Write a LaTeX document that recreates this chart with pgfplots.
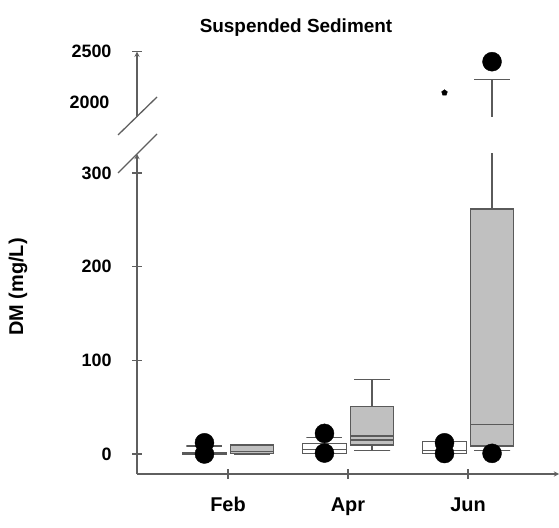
\documentclass[border=0pt]{standalone}
\usepackage{pgfplots}
\pgfplotsset{compat=1.18}
\usepackage{fontspec}
\setmainfont{Liberation Sans}
\definecolor{boxfill}{RGB}{192,192,192}
\definecolor{boxline}{RGB}{90,90,90}
\definecolor{axline}{RGB}{95,95,95}
\pgfplotsset{
  brk/.style={
    scale only axis, width=422bp, xmin=0.242, xmax=3.758,
    axis line style={axline, line width=1.3pt, -},
    tick style={axline, line width=1.3pt},
    tick align=outside,
    /pgf/number format/assume math mode=true,
    /pgf/number format/1000 sep={},
    tick label style={font=\fontsize{18}{20}\selectfont\bfseries},
  },
  wk/.style={draw=boxline, line width=1.1pt, no markers, solid},
  wb/.style={draw=boxline, line width=1.1pt, fill=white, no markers, solid},
  gb/.style={draw=boxline, line width=1.1pt, fill=boxfill, no markers, solid},
  md/.style={draw=boxline, line width=1.1pt, no markers, solid},
  ol/.style={only marks, mark=*, mark size=9.5bp, mark options={fill=black, draw=black}},
}
\begin{document}
\begin{tikzpicture}
\path[use as bounding box] (0,0) rectangle (559bp,528bp);
% lower part of the broken axis
\begin{axis}[brk, at={(137bp,54bp)}, anchor=south west, height=320bp,
  ymin=-21.35, ymax=320.3,
  axis x line=bottom, axis y line=left,
  xtick={1,2,3}, xticklabels={Feb,Apr,Jun},
  x tick label style={font=\fontsize{20}{22}\selectfont\bfseries, yshift=-15bp},
  major tick length=10bp,
  ytick={0,100,200,300},
  y tick label style={xshift=-17bp}]
% Feb white
\addplot[wk] coordinates {(0.654,0) (0.954,0) (0.804,0) (0.804,8.5) (0.654,8.5) (0.954,8.5)};
\addplot[wb] coordinates {(0.624,0) (0.984,0) (0.984,2) (0.624,2)} -- cycle;
\addplot[md] coordinates {(0.624,1) (0.984,1)};
% Feb gray
\addplot[wk] coordinates {(1.05,0) (1.35,0) (1.2,0) (1.2,10) (1.05,10) (1.35,10)};
\addplot[gb] coordinates {(1.02,0.5) (1.38,0.5) (1.38,9.6) (1.02,9.6)} -- cycle;
\addplot[md] coordinates {(1.02,3) (1.38,3)};
% Apr white
\addplot[wk] coordinates {(1.654,0.5) (1.954,0.5) (1.804,0.5) (1.804,17.8) (1.654,17.8) (1.954,17.8)};
\addplot[wb] coordinates {(1.624,0.8) (1.984,0.8) (1.984,11.4) (1.624,11.4)} -- cycle;
\addplot[md] coordinates {(1.624,5) (1.984,5)};
% Apr gray
\addplot[wk] coordinates {(2.05,3.5) (2.35,3.5) (2.2,3.5) (2.2,80) (2.05,80) (2.35,80)};
\addplot[gb] coordinates {(2.02,9.6) (2.38,9.6) (2.38,50.5) (2.02,50.5)} -- cycle;
\addplot[md] coordinates {(2.02,15) (2.38,15)};
\addplot[md] coordinates {(2.02,19.2) (2.38,19.2)};
% Jun white
\addplot[wk] coordinates {(2.654,0.5) (2.954,0.5) (2.804,0.5) (2.804,13) (2.654,13) (2.954,13)};
\addplot[wb] coordinates {(2.624,0.7) (2.984,0.7) (2.984,13) (2.624,13)} -- cycle;
\addplot[md] coordinates {(2.624,4) (2.984,4)};
% Jun gray
\addplot[wk] coordinates {(3.05,3.5) (3.35,3.5) (3.2,3.5) (3.2,340)};
\addplot[gb] coordinates {(3.02,8.5) (3.38,8.5) (3.38,261.6) (3.02,261.6)} -- cycle;
\addplot[md] coordinates {(3.02,31.7) (3.38,31.7)};
% outliers
\addplot[ol] coordinates {(0.804,12) (0.804,0) (1.804,22) (1.804,1) (2.804,12) (2.804,0.5) (3.2,0.7)};
\end{axis}
% upper part of the broken axis
\begin{axis}[brk, at={(137bp,411bp)}, anchor=south west, height=65.3bp,
  ymin=1860, ymax=2500,
  axis x line=none, axis y line=left,
  ytick={2500},
  extra y ticks={2000},
  extra y tick style={major tick length=0pt, y tick label style={xshift=-7bp}},
  major tick length=10bp,
  y tick label style={xshift=-17bp}]
\addplot[wk] coordinates {(3.2,1800) (3.2,2229) (3.05,2229) (3.35,2229)};
\addplot[ol] coordinates {(3.2,2402)};
\addplot[only marks, mark=pentagon*, mark size=3bp, mark options={fill=black, draw=black}] coordinates {(2.804,2098)};
\end{axis}
% break marks
\draw[axline, line width=1.3pt] (118bp,393bp) -- (157bp,431bp);
\draw[axline, line width=1.3pt] (118bp,355bp) -- (157bp,394bp);
% title and y label
\node[font=\fontsize{19}{21}\selectfont\bfseries] at (296bp,500bp) {Suspended Sediment};
\node[rotate=90, font=\fontsize{20}{22}\selectfont\bfseries] at (18bp,241bp) {DM (mg/L)};
\end{tikzpicture}
\end{document}
